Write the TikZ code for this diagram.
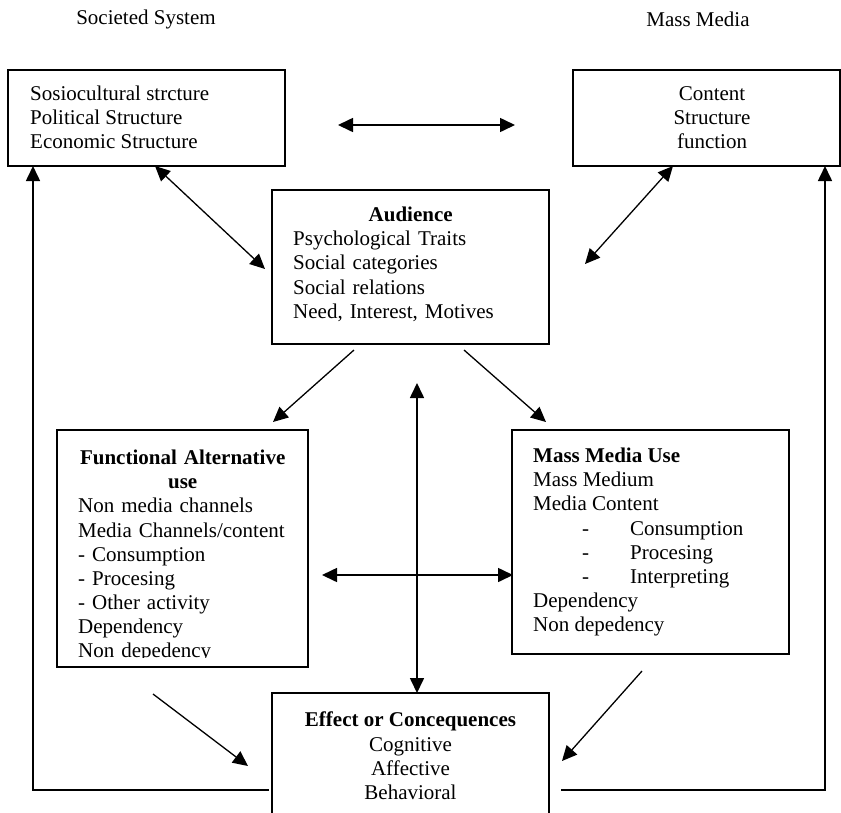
\documentclass[tikz,border=0pt]{standalone}
\usepackage{fontspec}
\setmainfont{Liberation Serif}
\usetikzlibrary{arrows.meta}
\begin{document}
\begin{tikzpicture}[x=1pt,y=-1pt,
  box/.style={draw, line width=1.8pt, inner sep=0pt, outer sep=0pt, anchor=north west},
  txt/.style={inner sep=0pt, font=\fontsize{21}{24.1}\selectfont},
  tip/.style={-{Triangle[length=15pt,width=14pt]}},
  conn/.style={line width=1.6pt, tip},
  both/.style={line width=1.6pt, {Triangle[length=15pt,width=14pt]}-{Triangle[length=15pt,width=14pt]}},
  diag/.style={line width=1.3pt, tip},
  diagboth/.style={line width=1.3pt, {Triangle[length=15pt,width=14pt]}-{Triangle[length=15pt,width=14pt]}}
]
\useasboundingbox (0,0) rectangle (841,812);

% headings
\node[txt] (lsoc) at (146,19.5) {Societed System};
\node[txt] (lmm) at (698,19.5) {Mass Media};

% boxes
\node[box, minimum width=277pt, minimum height=96pt] (soc) at (8,70) {};
\node[txt, anchor=north west, align=left] (soctext) at (30,86)
  {Sosiocultural strcture\\Political Structure\\Economic Structure};

\node[box, minimum width=267pt, minimum height=96pt] (mm) at (573,70) {};
\node[txt, anchor=north, align=center] (mmtext) at (712,86)
  {Content\\Structure\\function};

\node[box, minimum width=277pt, minimum height=154pt] (aud) at (272,190) {};
\node[txt, anchor=north west, align=left, text width=235pt] (audtext) at (293,207)
  {\makebox[235pt]{\textbf{Audience}}\\Psychological Traits\\Social categories\\Social relations\\Need, Interest, Motives};

\node[box, minimum width=251pt, minimum height=237pt] (fa) at (57,430) {};
\begin{scope}
  \clip (57,430) rectangle (308,657);
  \node[txt, anchor=north west, align=left, text width=209pt] (fatext) at (78,450)
    {\makebox[209pt]{\textbf{Functional Alternative}}\\\makebox[209pt]{\textbf{use}}\\Non media channels\\Media Channels/content\\- Consumption\\- Procesing\\- Other activity\\Dependency\\Non depedency};
\end{scope}

\node[box, minimum width=277pt, minimum height=224pt] (mmu) at (512,430) {};
\node[txt, anchor=north west, align=left] (mmutext) at (533,448)
  {\textbf{Mass Media Use}\\Mass Medium\\Media Content\\
   \makebox[97pt][l]{\hspace*{49pt}-}Consumption\\
   \makebox[97pt][l]{\hspace*{49pt}-}Procesing\\
   \makebox[97pt][l]{\hspace*{49pt}-}Interpreting\\
   Dependency\\Non depedency};

\node[box, minimum width=277pt, minimum height=140pt] (eff) at (272,693) {};
\node[txt, anchor=north, align=center] (efftext) at (410.5,712)
  {\textbf{Effect or Concequences}\\Cognitive\\Affective\\Behavioral};

% free connector ends
\coordinate (t1a) at (338,125);
\coordinate (t1b) at (515,125);
\coordinate (d1b) at (265,269);
\coordinate (d2b) at (585,264);
\coordinate (a1s) at (354,350);
\coordinate (a1e) at (273,422);
\coordinate (a2s) at (464,350);
\coordinate (a2e) at (546,422);
\coordinate (vtop) at (417,383);
\coordinate (hleft) at (322,575);
\coordinate (f1s) at (153,694);
\coordinate (f1e) at (248,766);
\coordinate (f2s) at (642,671);
\coordinate (f2e) at (562,761);
\coordinate (base) at (0,790);

% connectors
\draw[both] (t1a) -- (t1b);
\draw[diagboth] ([xshift=8.5pt]soc.south) -- (d1b);
\draw[diagboth] ([xshift=-33.5pt]mm.south) -- (d2b);
\draw[diag] (a1s) -- (a1e);
\draw[diag] (a2s) -- (a2e);
\draw[both] (vtop) -- ([xshift=6.5pt]eff.north);
\draw[both] (hleft) -- ([xshift=1pt]mmu.west |- hleft);
\draw[diag] (f1s) -- (f1e);
\draw[diag] (f2s) -- (f2e);
\draw[conn] ([xshift=-3pt]eff.west |- base) -| ([xshift=25pt]soc.south west);
\draw[conn] ([xshift=12pt]eff.east |- base) -| ([xshift=-15pt]mm.south east);
\end{tikzpicture}
\end{document}
